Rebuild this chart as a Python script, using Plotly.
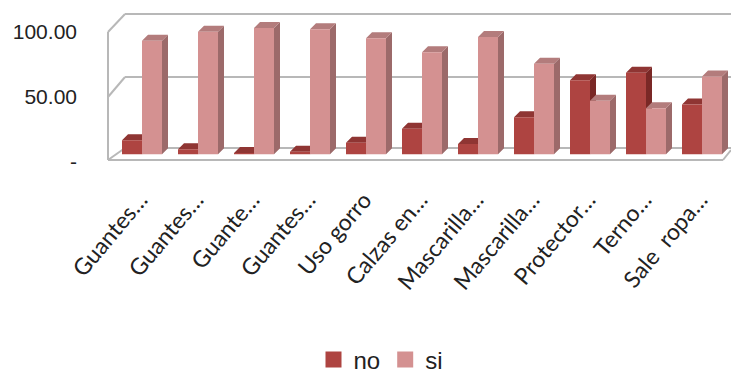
import plotly.graph_objects as go

# ---- data ----
categories = ["Guantes…", "Guantes…", "Guante…", "Guantes…", "Uso gorro", "Calzas en…",
              "Mascarilla…", "Mascarilla…", "Protector…", "Terno…", "Sale\u00a0 ropa…"]
no_vals = [11, 4, 1, 2, 9, 20, 8, 29, 58, 64, 39]
si_vals = [89, 96, 99, 98, 91, 80, 92, 71, 42, 36, 61]
series_names = ["no", "si"]
y_tick_values = [0, 50, 100]
y_tick_text = ["-", "50.00", "100.00"]

# ---- styling / geometry ----
W, H = 731, 376
ML, MR, MT, MB = 108, 3, 14, 213
PW, PH = W - ML - MR, H - MT - MB
px_per_cat = 56.0
x0_range = -34.0 / px_per_cat
x_range = [x0_range, x0_range + PW / px_per_cat]
zero_px = 154.3
px_per_unit = 1.276
y_range = [(zero_px - (MT + PH)) / px_per_unit, (zero_px - MT) / px_per_unit]

bar_w = 20.0 / px_per_cat
dx = 6.0 / px_per_cat
dy = 6.0 / px_per_unit

colors = {
    "no": {"front": "#AE4441", "side": "#7A2826", "top": "#8F3533"},
    "si": {"front": "#D49191", "side": "#9C6A6A", "top": "#B37C7C"},
}

def polys(vals, offset):
    fx, fy, sx, sy, tx, ty = [], [], [], [], [], []
    for i, v in enumerate(vals):
        a = i + offset
        b = a + bar_w
        fx += [a, b, b, a, a, None]; fy += [0, 0, v, v, 0, None]
        sx += [b, b + dx, b + dx, b, b, None]; sy += [0, dy, v + dy, v, 0, None]
        tx += [a, a + dx, b + dx, b, a, None]; ty += [v, v + dy, v + dy, v, v, None]
    return (fx, fy), (sx, sy), (tx, ty)

fig = go.Figure()
for name, vals, off in [("no", no_vals, -bar_w), ("si", si_vals, 0.0)]:
    front, side, top = polys(vals, off)
    for (xx, yy), face in [(side, "side"), (top, "top"), (front, "front")]:
        fig.add_trace(go.Scatter(x=xx, y=yy, mode="lines", fill="toself",
                                 fillcolor=colors[name][face],
                                 line=dict(width=0, color=colors[name][face]),
                                 showlegend=False, hoverinfo="skip"))

for name in series_names:
    fig.add_trace(go.Scatter(x=[None], y=[None], mode="markers", name=name,
                             marker=dict(symbol="square", size=17, color=colors[name]["front"])))

# front-plane positions of the value labels
def label_pos(v):
    px = 162.0 - 1.3 * v
    return (zero_px - px) / px_per_unit

def pxp(X, Y):
    return (X - ML) / PW, (MT + PH - Y) / PH

wall = [
    ((108, 32), (108, 160)),
    ((108, 32), (125, 14)), ((125, 14), (731, 14)),
    ((108, 97), (125, 77)), ((125, 77), (731, 77)),
    ((108, 160), (125, 148)), ((125, 148), (731, 148)),
    ((108, 160), (723, 160)), ((723, 160), (731, 150)),
]
shapes = []
for (p, q) in wall:
    x1, y1 = pxp(*p); x2, y2 = pxp(*q)
    shapes.append(dict(type="line", xref="paper", yref="paper", x0=x1, y0=y1, x1=x2, y1=y2,
                       line=dict(color="#B8B8B8", width=2), layer="below"))

fig.update_layout(
    width=W, height=H,
    margin=dict(l=ML, r=MR, t=MT, b=MB, autoexpand=False),
    paper_bgcolor="white", plot_bgcolor="white",
    shapes=shapes,
    showlegend=True,
    legend=dict(orientation="h", x=(381 - ML) / PW, xanchor="center",
                y=(MT + PH - 360) / PH, yanchor="middle",
                font=dict(family="Liberation Sans, Arial", size=24, color="#222"),
                itemwidth=30, bgcolor="rgba(0,0,0,0)"),
    xaxis=dict(range=x_range, tickmode="array", tickvals=list(range(len(categories))),
               ticktext=categories, tickangle=-50, showgrid=False, zeroline=False,
               showline=False, ticks="", ticklabelstandoff=18, ticklabelshift=-2,
               automargin=False,
               tickfont=dict(family="Lato, Carlito, sans-serif", size=23, color="#222")),
    yaxis=dict(range=y_range, tickmode="array", tickvals=[label_pos(v) for v in y_tick_values],
               ticktext=y_tick_text, showgrid=False, zeroline=False, showline=False, ticks="",
               ticklabelstandoff=30, automargin=False,
               tickfont=dict(family="Liberation Sans, Arial", size=21, color="#222")),
)

fig.write_html("out.html", config={"displayModeBar": False, "staticPlot": True},
               post_script="document.body.style.margin='0';document.body.style.overflow='hidden';")
